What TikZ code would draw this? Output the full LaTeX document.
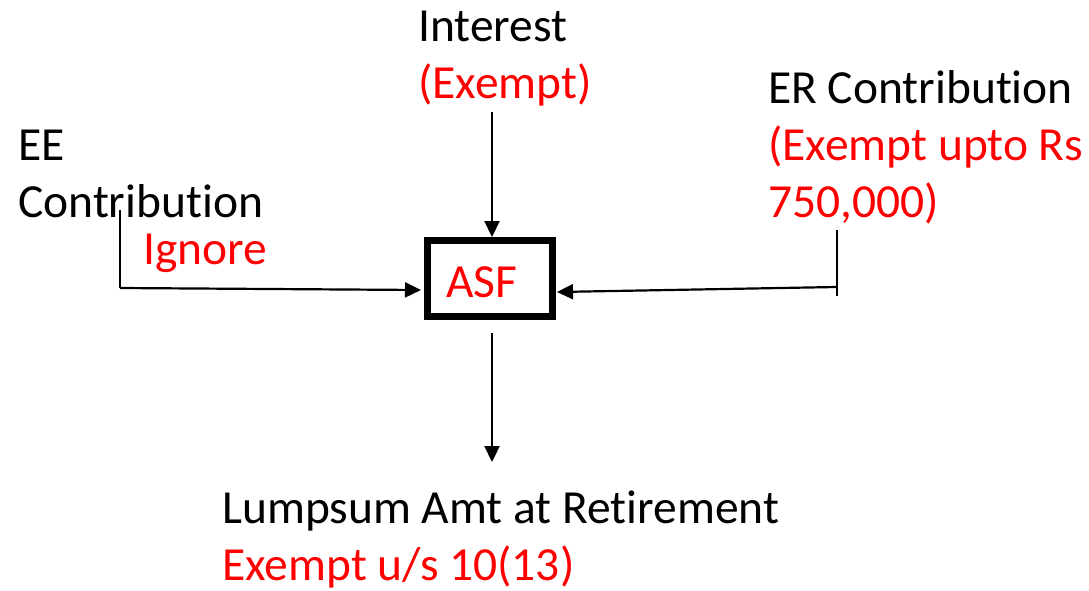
\documentclass[tikz,border=0pt]{standalone}
\usepackage{fontspec}
\setmainfont[RawFeature={-liga;-clig;-calt;-dlig;-rlig}]{Carlito}
\usetikzlibrary{arrows.meta}

\begin{document}
\begin{tikzpicture}[x=1pt, y=-1pt]
        \tikzset{every node/.style={inner sep=0pt, anchor=base west, font=\fontsize{47.5}{57}\selectfont}}
        \tikzset{lbl/.style={text=black}}
        \tikzset{note/.style={text=red}}
        \tikzset{fund/.style={draw, line width=7pt, minimum width=125pt, minimum height=76pt, anchor=center, text=red}}
        \tikzset{flow/.style={-{Triangle[length=16pt, width=15pt]}, line width=2.2pt}}

        \useasboundingbox (0,0) rectangle (1089,590);

% fund in the middle
        \node[fund] (asf) at (490,278.5) {};
        \node[note, anchor=center] (asftext) at (482,282) {ASF};

% interest on top
        \node[lbl] (int) at (418,41) {Interest};
        \node[note] (intnote) at (418,98) {(Exempt)};

% employer side
        \node[lbl] (er) at (768,103) {ER Contribution};
        \node[note] (ernote) at (768,160) {(Exempt upto Rs};
        \node[note] (ernote2) at (768,217) {750,000)};

% employee side
        \node[lbl] (ee) at (18,160) {EE};
        \node[lbl] (ee2) at (18,217) {Contribution};
        \node[note] (eenote) at (143,264) {Ignore};

% payout below
        \node[lbl] (lump) at (222,523) {Lumpsum Amt at Retirement};
        \node[note] (lumpnote) at (222,580) {Exempt u/s 10(13)};

        \coordinate (intend) at (492,112);
        \coordinate (eetop) at (120,210);
        \coordinate (eecorner) at (120,288);
        \coordinate (ertop) at (837,230);
        \coordinate (erbot) at (837,296);
        \coordinate (ercorner) at (836,287);
        \coordinate (outstart) at (492,333);
        \coordinate (outend) at (492,462);

        \draw[flow] (intend) -- (intend |- asf.north);
        \draw[line width=1.6pt] (eetop) -- (eecorner);
        \draw[flow] (eecorner) -- (421,290);
        \draw[line width=1.6pt] (ertop) -- (erbot);
        \draw[flow] (ercorner) -- (557,292);
        \draw[flow] (outstart) -- (outend);

    \end{tikzpicture}
\end{document}
